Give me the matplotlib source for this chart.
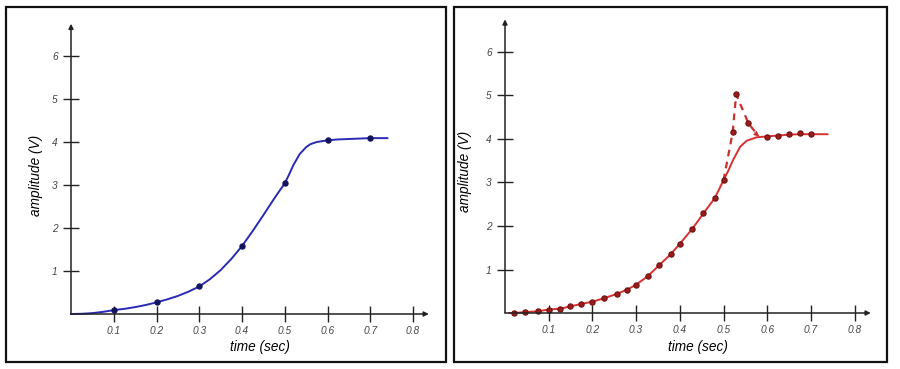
import matplotlib
matplotlib.use('Agg')
from matplotlib import pyplot as plt
from matplotlib.patches import Rectangle

# left panel: blue curve with coarse samples
blue_curve_t = [0, 0.025, 0.05, 0.075, 0.1, 0.125, 0.15, 0.175, 0.2, 0.225, 0.25, 0.275, 0.3,
                0.325, 0.35, 0.375, 0.4, 0.425, 0.45, 0.475, 0.5, 0.51, 0.52, 0.535, 0.55,
                0.56, 0.575, 0.6, 0.625, 0.65, 0.675, 0.7, 0.74]
blue_curve_v = [0, 0.005, 0.02, 0.05, 0.09, 0.12, 0.16, 0.21, 0.27, 0.34, 0.42, 0.52, 0.64,
                0.81, 1.02, 1.28, 1.58, 1.93, 2.30, 2.68, 3.04, 3.24, 3.46, 3.72, 3.88,
                3.95, 4.0, 4.04, 4.06, 4.07, 4.08, 4.09, 4.09]
blue_pts_t = [0.1, 0.2, 0.3, 0.4, 0.5, 0.6, 0.7]
blue_pts_v = [0.09, 0.27, 0.64, 1.58, 3.04, 4.04, 4.1]

# right panel: red curve with fine samples and an overshoot
red_curve_t = [0.01, 0.02, 0.046, 0.076, 0.1, 0.126, 0.149, 0.175, 0.2, 0.227, 0.256, 0.28,
               0.3, 0.327, 0.353, 0.379, 0.4, 0.429, 0.454, 0.48, 0.5, 0.51, 0.522, 0.538,
               0.553, 0.576, 0.6, 0.625, 0.65, 0.675, 0.7, 0.738]
red_curve_v = [0.0, 0.0, 0.02, 0.04, 0.08, 0.10, 0.15, 0.21, 0.26, 0.34, 0.44, 0.54,
               0.65, 0.85, 1.10, 1.35, 1.59, 1.94, 2.29, 2.64, 3.05, 3.25, 3.52, 3.82,
               3.96, 4.04, 4.06, 4.08, 4.1, 4.11, 4.11, 4.11]
red_pts_t = [0.02, 0.046, 0.076, 0.1, 0.126, 0.149, 0.175, 0.2, 0.227, 0.256, 0.28, 0.3,
             0.327, 0.353, 0.379, 0.4, 0.429, 0.454, 0.48, 0.5]
red_pts_v = [0.0, 0.02, 0.04, 0.08, 0.10, 0.15, 0.21, 0.26, 0.34, 0.44, 0.54, 0.65,
             0.85, 1.10, 1.35, 1.59, 1.94, 2.29, 2.64, 3.05]
overshoot_t = [0.5, 0.521, 0.529, 0.557, 0.58]
overshoot_v = [3.05, 4.15, 5.03, 4.36, 4.07]
overshoot_pts_t = [0.521, 0.529, 0.557]
overshoot_pts_v = [4.15, 5.03, 4.36]
plateau_pts_t = [0.6, 0.625, 0.651, 0.675, 0.7]
plateau_pts_v = [4.05, 4.08, 4.11, 4.13, 4.11]

x_ticks = [0.1, 0.2, 0.3, 0.4, 0.5, 0.6, 0.7, 0.8]
x_labels = ['0.1', '0.2', '0.3', '0.4', '0.5', '0.6', '0.7', '0.8']
y_ticks = [1, 2, 3, 4, 5, 6]
y_labels = ['1', '2', '3', '4', '5', '6']

W, H = 900, 369
plt.rcParams['font.family'] = ['Liberation Sans', 'DejaVu Sans']
plt.rcParams['font.style'] = 'italic'


def box(fig, x0, y0, x1, y1):
    fig.add_artist(Rectangle((x0 / W, 1 - y1 / H), (x1 - x0) / W, (y1 - y0) / H,
                             transform=fig.transFigure, fill=False, lw=1.6, ec='#111111'))


def make_axes(fig, ox, oy, px_x, px_y, xlab, ylab):
    xmax, ymax = 0.86, 6.9
    ax = fig.add_axes([ox / W, 1 - oy / H, xmax * px_x / W, ymax * px_y / H])
    ax.set_xlim(0, xmax)
    ax.set_ylim(0, ymax)
    for s in ax.spines.values():
        s.set_visible(False)
    arrow = dict(arrowstyle='-|>', lw=1.1, color='#222222', mutation_scale=7,
                 shrinkA=0, shrinkB=0)
    ax.annotate('', xy=(0.837, 0), xytext=(0, 0), arrowprops=arrow, annotation_clip=False)
    ax.annotate('', xy=(0, 6.75), xytext=(0, 0), arrowprops=arrow, annotation_clip=False)
    ax.set_xticks(x_ticks, x_labels)
    ax.set_yticks(y_ticks, y_labels)
    ax.tick_params(direction='inout', length=11, width=1, color='#222222',
                   labelcolor='#444444', labelsize=7.3)
    ax.tick_params(axis='x', pad=3)
    ax.tick_params(axis='y', pad=4)
    ax.set_xlabel('time (sec)', fontsize=9.8, va='center')
    ax.set_ylabel('amplitude (V)', fontsize=9.8, va='center')
    ax.xaxis.set_label_coords(xlab[0], xlab[1])
    ax.yaxis.set_label_coords(ylab[0], ylab[1])
    return ax


def main():
    fig = plt.figure(figsize=(9, 3.69), dpi=100)
    box(fig, 6, 7, 446, 362)
    box(fig, 454, 7, 887, 362)

    # left panel
    ax1 = make_axes(fig, 71, 314, 427.5, 43.0, ((260 - 71) / 367.7, -33 / 296.7),
                    ((36 - 71) / 367.7, (314 - 175) / 296.7))
    ax1.plot(blue_curve_t, blue_curve_v, color='#2a2ab4', lw=1.4, clip_on=False)
    ax1.plot(blue_pts_t, blue_pts_v, 'o', ms=3.6, color='#14145e', clip_on=False)

    # right panel
    ax2 = make_axes(fig, 505, 313, 437.0, 43.5, ((698 - 505) / 375.8, -34 / 300.2),
                    ((465 - 505) / 375.8, (313 - 171) / 300.2))
    ax2.plot(red_curve_t, red_curve_v, color='#d83030', lw=1.4, clip_on=False)
    ax2.plot(overshoot_t, overshoot_v, '--', color='#c83030', lw=1.6, dashes=(3, 2.5))
    ax2.annotate('', xy=(0.582, 4.06), xytext=(0.572, 4.14),
                 arrowprops=dict(arrowstyle='->', color='#c83030', lw=1.2, mutation_scale=6,
                                 shrinkA=0, shrinkB=0))
    for t, v in [(red_pts_t, red_pts_v), (overshoot_pts_t, overshoot_pts_v),
                 (plateau_pts_t, plateau_pts_v)]:
        ax2.plot(t, v, 'o', ms=3.8, color='#9a1c1c', mec='#6e1010', mew=0.8, clip_on=False)

    fig.savefig('out.png', dpi=100, facecolor='white')


if __name__ == '__main__':
    main()
